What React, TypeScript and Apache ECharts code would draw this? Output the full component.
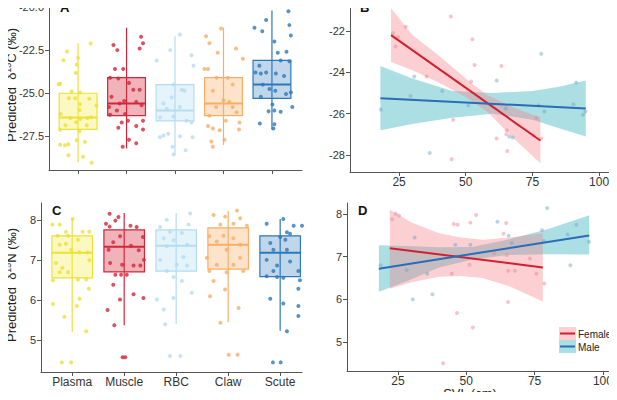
import React, { useEffect, useRef } from "react";
import * as echarts from "echarts";

const tissues = ["Plasma", "Muscle", "RBC", "Claw", "Scute"];
const strokes = ["#ece03a", "#d3263a", "#b5dcf2", "#f8ae66", "#2e78b8"];
const fills = ["rgba(245,236,80,0.35)", "rgba(211,38,58,0.35)", "rgba(181,220,242,0.35)", "rgba(248,174,102,0.35)", "rgba(46,120,184,0.3)"];

// box stats: [low, q1, median, q3, high]
const boxC13 = [
  [-29.0, -27.1, -26.4, -25.0, -22.1],
  [-28.2, -26.3, -25.6, -24.1, -21.2],
  [-28.6, -26.6, -26.0, -24.5, -21.7],
  [-28.0, -26.3, -25.6, -24.1, -21.2],
  [-27.1, -25.3, -24.5, -23.1, -20.2],
];
const boxN15 = [
  [5.2, 6.55, 7.18, 7.6, 8.05],
  [5.37, 6.7, 7.33, 7.75, 8.17],
  [5.4, 6.72, 7.35, 7.75, 8.17],
  [5.45, 6.77, 7.38, 7.8, 8.22],
  [5.23, 6.58, 7.18, 7.6, 8.02],
];

// jittered points: [offset from category, value]
const plasmaC13 = [[0.26,-22.12],[-0.23,-22.58],[-0.3,-23.09],[0,-22.96],[-0.03,-23.34],[-0.05,-23.82],[-0.37,-24.45],[-0.4,-24.48],[-0.13,-24.9],[0.04,-24.96],[-0.06,-25.29],[-0.19,-25.29],[0.23,-25.32],[0.04,-25.63],[0.38,-25.71],[0.03,-25.97],[-0.36,-26.2],[-0.16,-26.43],[0.04,-26.49],[0.19,-26.43],[0.27,-26.39],[-0.04,-26.68],[-0.26,-26.85],[0.18,-26.85],[-0.37,-27.12],[0.03,-27.2],[-0.37,-27.98],[-0.27,-28.02],[-0.2,-27.96],[0.14,-27.82],[-0.03,-27.73],[-0.2,-28.59],[0.1,-28.68],[0.28,-29.03]];
const muscleC13 = [[0.3,-21.72],[0.34,-22.1],[-0.27,-22.2],[0.27,-22.4],[-0.19,-22.5],[-0.24,-23.6],[-0.07,-23.6],[-0.34,-24.1],[-0.17,-24.15],[0.05,-24.4],[0.14,-24.8],[0.27,-24.8],[-0.31,-25.2],[-0.05,-25.45],[-0.14,-25.6],[0.2,-25.5],[0.31,-25.7],[-0.36,-25.8],[-0.2,-26.0],[-0.03,-26.2],[-0.34,-26.25],[-0.1,-26.7],[0.03,-26.6],[0.2,-26.9],[0.34,-27.1],[-0.17,-27.0],[0.05,-27.7],[0.2,-27.9],[-0.08,-28.1],[0.34,-26.6]];
const rbcC13 = [[0.1,-21.6],[-0.1,-22.5],[-0.38,-23.1],[0.34,-22.8],[0.38,-23.4],[-0.03,-24.5],[0.14,-24.8],[0.2,-24.85],[-0.07,-25.25],[-0.24,-25.6],[0.1,-25.8],[-0.17,-25.9],[-0.31,-26.4],[-0.03,-26.35],[0.24,-26.6],[0.34,-26.7],[-0.24,-27.45],[-0.14,-27.35],[-0.31,-27.55],[0.1,-27.5],[0.36,-27.55],[-0.05,-28.1],[0.22,-28.3],[-0.03,-28.55]];
const clawC13 = [[-0.36,-21.7],[-0.05,-21.25],[-0.29,-22.1],[-0.12,-22.65],[0.26,-22.4],[0.4,-23.0],[-0.39,-23.6],[-0.32,-23.6],[-0.14,-24.1],[0.09,-24.1],[0.19,-24.5],[-0.22,-24.85],[0,-25.4],[0.12,-25.5],[-0.15,-25.8],[0.19,-25.8],[0.27,-26.1],[-0.29,-26.3],[0.05,-26.6],[-0.32,-26.9],[-0.22,-27.05],[-0.08,-27.15],[0.32,-27.1],[0.33,-26.7],[-0.25,-27.8],[-0.22,-28.1],[0.02,-27.7]];
const scuteC13 = [[-0.36,-21.2],[-0.12,-20.75],[0.34,-20.25],[0.36,-21.05],[0.39,-21.65],[-0.2,-21.4],[0.05,-22.0],[0.12,-22.65],[0.3,-22.6],[0.18,-23.1],[0.36,-23.15],[-0.26,-23.4],[-0.34,-23.8],[-0.12,-23.8],[-0.23,-23.85],[0.08,-23.85],[0.25,-24.0],[-0.19,-24.5],[-0.05,-24.75],[0.07,-24.85],[0.39,-24.95],[-0.23,-25.2],[0.29,-25.05],[0.01,-25.65],[0.05,-26.0],[-0.07,-26.05],[0.18,-26.07],[0.42,-25.8],[-0.25,-26.75],[0.05,-26.8],[0.03,-27.05]];

const plasmaN15 = [[-0.38,7.88],[-0.24,7.88],[0.01,8.02],[-0.12,7.7],[0.2,7.7],[0.33,7.7],[-0.28,7.6],[-0.08,7.6],[0.11,7.5],[-0.24,7.38],[-0.12,7.4],[-0.02,7.25],[0.14,7.19],[0.3,7.19],[0.33,6.99],[-0.31,6.92],[-0.19,6.8],[-0.08,6.69],[-0.24,6.69],[-0.37,6.49],[0.11,6.51],[0.27,6.51],[0.32,6.28],[0.14,6.03],[-0.37,5.9],[0.09,5.85],[-0.15,5.58],[0.27,5.22],[-0.2,4.44],[-0.02,4.44]];
const muscleN15 = [[-0.28,8.15],[-0.11,8.07],[-0.17,7.98],[-0.35,7.9],[-0.28,7.83],[0.12,7.85],[0.24,7.82],[-0.08,7.59],[0.36,7.57],[-0.21,7.44],[0.13,7.35],[0.28,7.24],[-0.3,7.25],[0.38,7.0],[-0.27,6.92],[-0.04,6.88],[0.18,6.86],[0.31,6.86],[-0.17,6.63],[0.05,6.63],[-0.06,6.63],[-0.21,6.38],[0.18,6.14],[0.37,6.05],[-0.08,6.01],[-0.32,5.75],[-0.19,5.37],[-0.03,4.57],[0.02,4.57]];
const rbcN15 = [[-0.18,8.0],[0.27,8.16],[0.24,7.88],[-0.31,7.82],[-0.12,7.7],[0.11,7.67],[-0.24,7.54],[-0.05,7.49],[0.21,7.38],[-0.18,7.34],[0.14,7.07],[-0.31,7.0],[0.01,6.88],[0.21,6.86],[-0.18,6.72],[-0.05,6.57],[-0.37,6.01],[0.11,6.47],[-0.24,5.76],[-0.05,6.05],[0.3,6.18],[-0.21,5.39],[-0.12,4.6],[0.08,4.6]];
const clawN15 = [[-0.28,8.12],[-0.06,8.08],[0.17,8.23],[0.23,8.04],[-0.15,7.88],[0.1,7.9],[0.36,7.85],[-0.36,7.59],[-0.09,7.6],[0.1,7.54],[0.23,7.38],[-0.22,7.46],[-0.03,7.25],[-0.41,7.05],[0.23,7.05],[-0.22,6.88],[0.1,6.88],[-0.36,6.72],[-0.03,6.69],[0.29,6.72],[-0.28,6.47],[-0.06,6.26],[-0.35,6.09],[0.2,5.8],[-0.15,5.43],[0.01,4.63],[0.18,4.63]];
const scuteN15 = [[-0.26,7.9],[0.06,8.02],[0.13,7.69],[0.26,7.85],[0.42,7.85],[0,7.57],[0.19,7.65],[-0.19,7.42],[0.1,7.5],[-0.13,7.25],[0.13,7.25],[0.19,6.96],[-0.26,7.0],[-0.06,6.86],[0.35,6.72],[-0.26,6.59],[-0.13,6.72],[-0.06,6.57],[0.06,6.55],[0.38,6.49],[0.35,6.28],[-0.19,6.03],[0.06,5.91],[0.35,5.85],[0.35,5.6],[0.13,5.22],[-0.14,4.44],[0.01,4.44]];

const pointsC13 = [plasmaC13, muscleC13, rbcC13, clawC13, scuteC13];
const pointsN15 = [plasmaN15, muscleN15, rbcN15, clawN15, scuteN15];

// SVL panels: [SVL, value]
const femaleC13 = [[22.7,-22.1],[24.6,-22.3],[23.7,-22.75],[27.5,-21.8],[44.4,-21.3],[52.5,-22.4],[53.3,-23.65],[35.3,-24.2],[52,-24.45],[63.4,-23.7],[45.3,-26.3],[61.6,-27.2],[65.2,-27.0],[65.6,-27.8],[44.7,-28.2],[76.5,-26.2],[75.5,-27.05],[78.3,-27.2],[65.4,-26.8]];
const maleC13 = [[18.2,-25.8],[30.7,-24.2],[29.3,-25.15],[41.2,-24.9],[51,-25.6],[61.6,-24.4],[65,-25.75],[66.3,-27.1],[67.6,-27.15],[78.3,-23.1],[79.5,-25.9],[77.3,-25.6],[91.4,-24.5],[90.4,-25.55],[94,-26.05],[94.9,-25.9],[36.5,-27.9]];
const femaleN15 = [[22.9,7.88],[24.2,8.01],[25.4,7.96],[53.6,7.98],[51.5,7.8],[45.4,7.77],[46.8,7.75],[64.6,7.79],[63.6,7.54],[44.7,6.6],[46.6,5.68],[52.4,5.34],[41.5,4.5],[65.3,5.94],[65.3,6.67],[67.8,6.67],[73.3,6.96],[75.7,6.6],[78.5,6.37],[60.2,7.08],[64.8,7.04],[51.2,6.81]];
const maleN15 = [[18.7,6.8],[31.1,7.45],[28.2,6.69],[35.7,6.6],[30.4,6.0],[37.6,6.12],[46,7.28],[51.5,7.28],[61.4,7.82],[65.5,7.49],[66.7,7.32],[77.7,7.62],[79.6,8.14],[78.4,7.37],[88.1,6.8],[87.1,7.52],[90.3,7.75],[94.9,7.35]];

// fitted lines and confidence bands: [SVL, lower, upper]
const femaleLineC13 = [[22, -22.2], [78, -27.3]];
const maleLineC13 = [[18, -25.25], [95, -25.75]];
const femaleBandC13 = [[22, -23.5, -20.9], [30, -23.9, -22.2], [40, -24.5, -23.2], [50, -25.2, -24.3], [58, -25.9, -25.1], [68, -27.2, -25.7], [78, -28.4, -26.2]];
const maleBandC13 = [[18, -26.8, -23.7], [30, -26.5, -24.3], [45, -26.2, -24.9], [60, -26.0, -25.0], [75, -26.3, -24.9], [85, -26.7, -24.7], [95, -27.1, -24.4]];
const femaleLineN15 = [[22, 7.2], [78, 6.75]];
const maleLineN15 = [[18, 6.72], [95, 7.5]];
const femaleBandN15 = [[22, 6.25, 8.1], [30, 6.4, 7.8], [40, 6.53, 7.55], [48, 6.55, 7.45], [56, 6.5, 7.4], [66, 6.3, 7.45], [78, 5.95, 7.55]];
const maleBandN15 = [[18, 6.18, 7.27], [28, 6.42, 7.25], [40, 6.75, 7.22], [52, 6.93, 7.23], [65, 7.04, 7.4], [80, 7.06, 7.65], [95, 7.05, 7.97]];

const FONT = "Liberation Sans";
const axisLine = { lineStyle: { color: "#555", width: 1 } };
const axisTick = { lineStyle: { color: "#555" }, length: 4 };
const axisLabel = { color: "#333", fontSize: 11, fontFamily: FONT };

function yAxis(grid: number, min: number, max: number, ticks: number[], dec: number) {
  return {
    type: "value", gridIndex: grid, min, max, splitLine: { show: false },
    axisLine: { show: true, ...axisLine },
    axisTick: { show: true, ...axisTick, customValues: ticks },
    axisLabel: { ...axisLabel, margin: 5, customValues: ticks, formatter: (v: number) => v.toFixed(dec) },
  };
}
function xAxis(grid: number, min: number, max: number, ticks: number[], fmt: (v: number) => string) {
  return {
    type: "value", gridIndex: grid, min, max, splitLine: { show: false },
    axisLine: { show: true, onZero: false, ...axisLine },
    axisTick: { show: true, ...axisTick, customValues: ticks },
    axisLabel: { ...axisLabel, fontSize: 12, margin: 4, customValues: ticks, formatter: fmt },
  };
}

function boxSeries(grid: number, stats: number[][], pts: number[][][]) {
  const out: any[] = [{
    type: "custom", xAxisIndex: grid, yAxisIndex: grid, z: 2,
    data: stats.map((s, i) => [i + 1, ...s, i]),
    renderItem: (_p: any, api: any) => {
      const x = api.value(0);
      const idx = api.value(6);
      const w = api.size([0.78, 0])[0];
      const lo = api.coord([x, api.value(1)]);
      const q1 = api.coord([x, api.value(2)]);
      const md = api.coord([x, api.value(3)]);
      const q3 = api.coord([x, api.value(4)]);
      const hi = api.coord([x, api.value(5)]);
      const c = strokes[idx];
      return {
        type: "group", children: [
          { type: "line", shape: { x1: lo[0], y1: lo[1], x2: hi[0], y2: hi[1] }, style: { stroke: c, lineWidth: 1.2 } },
          { type: "rect", shape: { x: q3[0] - w / 2, y: q3[1], width: w, height: q1[1] - q3[1] }, style: { fill: fills[idx], stroke: c, lineWidth: 1.2 } },
          { type: "line", shape: { x1: md[0] - w / 2, y1: md[1], x2: md[0] + w / 2, y2: md[1] }, style: { stroke: c, lineWidth: 2 } },
        ],
      };
    },
  }];
  pts.forEach((p, i) => out.push({
    type: "scatter", xAxisIndex: grid, yAxisIndex: grid, z: 3, symbolSize: 4,
    itemStyle: { color: strokes[i], opacity: 0.8 },
    data: p.map(([dx, v]) => [i + 1 + dx, v]),
  }));
  return out;
}

function bandSeries(grid: number, band: number[][], fill: string) {
  return {
    type: "custom", xAxisIndex: grid, yAxisIndex: grid, z: 1, data: [0],
    renderItem: (_p: any, api: any) => {
      const up = band.map((b) => api.coord([b[0], b[2]]));
      const dn = band.map((b) => api.coord([b[0], b[1]])).reverse();
      return { type: "polygon", shape: { points: [...up, ...dn] }, style: { fill } };
    },
  };
}

function svlSeries(grid: number, fPts: number[][], mPts: number[][], fLine: number[][], mLine: number[][], fBand: number[][], mBand: number[][]) {
  return [
    bandSeries(grid, mBand, "rgba(72,185,195,0.45)"),
    bandSeries(grid, fBand, "rgba(245,120,125,0.35)"),
    { type: "scatter", xAxisIndex: grid, yAxisIndex: grid, z: 3, symbolSize: 4, itemStyle: { color: "rgba(240,130,145,0.6)" }, data: fPts },
    { type: "scatter", xAxisIndex: grid, yAxisIndex: grid, z: 3, symbolSize: 4, itemStyle: { color: "rgba(110,165,200,0.6)" }, data: mPts },
    { type: "line", xAxisIndex: grid, yAxisIndex: grid, z: 4, symbol: "none", lineStyle: { color: "#d0202e", width: 2 }, data: fLine },
    { type: "line", xAxisIndex: grid, yAxisIndex: grid, z: 4, symbol: "none", lineStyle: { color: "#2a6cb5", width: 2 }, data: mLine },
  ];
}

const letter = (t: string, x: number, y: number) => ({ type: "text", left: x, top: y, style: { text: t, font: `bold 13px ${FONT}`, fill: "#111" } });
const yTitle = (iso: string, el: string, cy: number) => ({
  type: "text", x: 11, y: cy, rotation: Math.PI / 2,
  style: {
    text: `{n|Predicted  δ}{s|${iso}}{n|${el} (‰)}`, align: "center", verticalAlign: "middle",
    rich: { n: { fontSize: 13, fontFamily: FONT, fill: "#222" }, s: { fontSize: 9, fontFamily: FONT, fill: "#222", verticalAlign: "top", padding: [0, 0, 6, 0] } },
  },
});

const App: React.FC = () => {
  const ref = useRef<HTMLDivElement>(null);
  useEffect(() => {
    if (!ref.current) return;
    const chart = echarts.init(ref.current, null, { renderer: "svg" });
    const catFmt = (v: number) => tissues[Math.round(v) - 1] ?? "";
    chart.setOption({
      animation: false,
      textStyle: { fontFamily: FONT },
      grid: [
        { left: 49, top: 7, width: 253, height: 163 },
        { left: 350, top: 3, width: 260, height: 169 },
        { left: 41, top: 203, width: 261, height: 169 },
        { left: 347, top: 203, width: 263, height: 168 },
      ],
      xAxis: [
        { ...xAxis(0, 0.4, 5.62, [1, 2, 3, 4, 5], () => ""), axisLabel: { show: false } },
        xAxis(1, 6.6, 104.1, [25, 50, 75, 100], (v) => String(v)),
        xAxis(2, 0.4, 5.42, [1, 2, 3, 4, 5], catFmt),
        xAxis(3, 6.34, 102.6, [25, 50, 75, 100], (v) => String(v)),
      ],
      yAxis: [
        yAxis(0, -29.45, -20.0, [-27.5, -25, -22.5, -20], 1),
        yAxis(1, -28.82, -20.65, [-28, -26, -24, -22], 0),
        yAxis(2, 4.2, 8.42, [5, 6, 7, 8], 0),
        yAxis(3, 4.32, 8.26, [5, 6, 7, 8], 0),
      ],
      series: [
        ...boxSeries(0, boxC13, pointsC13),
        ...svlSeries(1, femaleC13, maleC13, femaleLineC13, maleLineC13, femaleBandC13, maleBandC13),
        ...boxSeries(2, boxN15, pointsN15),
        ...svlSeries(3, femaleN15, maleN15, femaleLineN15, maleLineN15, femaleBandN15, maleBandN15),
      ],
      graphic: [
        letter("A", 60, 1), letter("B", 360, 1), letter("C", 52, 204), letter("D", 358, 204),
        yTitle("13", "C", 85),
        yTitle("15", "N", 285),
        { type: "text", x: 470, y: 393, style: { text: "SVL (cm)", font: `13px ${FONT}`, fill: "#222", align: "center", verticalAlign: "middle" } },
        { type: "rect", shape: { x: 559, y: 327, width: 17, height: 13 }, style: { fill: "rgba(245,120,125,0.35)" } },
        { type: "rect", shape: { x: 559, y: 340, width: 17, height: 13 }, style: { fill: "rgba(72,185,195,0.45)" } },
        { type: "line", shape: { x1: 560, y1: 333.5, x2: 575, y2: 333.5 }, style: { stroke: "#d0202e", lineWidth: 2 } },
        { type: "line", shape: { x1: 560, y1: 346.5, x2: 575, y2: 346.5 }, style: { stroke: "#2a6cb5", lineWidth: 2 } },
        { type: "text", x: 578, y: 334, style: { text: "Female", font: `10px ${FONT}`, fill: "#222", verticalAlign: "middle" } },
        { type: "text", x: 578, y: 347, style: { text: "Male", font: `10px ${FONT}`, fill: "#222", verticalAlign: "middle" } },
      ],
    });
    return () => chart.dispose();
  }, []);
  return <div ref={ref} style={{ width: 617, height: 400, margin: -8 }} />;
};

export default App;
